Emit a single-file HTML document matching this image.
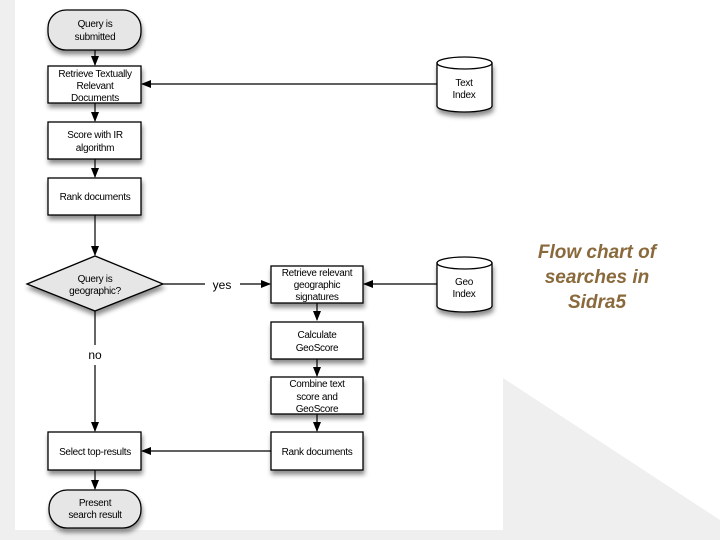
<!DOCTYPE html>
<html><head><meta charset="utf-8"><style>
html,body{margin:0;padding:0;width:720px;height:540px;overflow:hidden;background:#fff}
</style></head><body>
<svg width="720" height="540" xmlns="http://www.w3.org/2000/svg" font-family="Liberation Sans, Arial, sans-serif">
<defs>
<filter id="sh" x="-20%" y="-20%" width="140%" height="160%"><feDropShadow dx="1" dy="4" stdDeviation="2.5" flood-color="#000" flood-opacity="0.45"/></filter>
<marker id="ar" markerWidth="10" markerHeight="10" refX="9" refY="4" orient="auto" markerUnits="userSpaceOnUse"><path d="M0,0 L10,4 L0,8 z" fill="#000"/></marker>
</defs>
<rect x="0" y="0" width="720" height="540" fill="#fff"/>
<rect x="0" y="0" width="15" height="540" fill="#efefef"/>
<rect x="0" y="530" width="720" height="10" fill="#efefef"/>
<polygon points="503,378 720,520 720,540 503,540" fill="#efefef"/>
<g stroke="#000" stroke-width="1.2" fill="none">
<line x1="95" y1="50" x2="95" y2="65" marker-end="url(#ar)"/>
<line x1="95" y1="103" x2="95" y2="121" marker-end="url(#ar)"/>
<line x1="95" y1="159" x2="95" y2="177" marker-end="url(#ar)"/>
<line x1="95" y1="215" x2="95" y2="255" marker-end="url(#ar)"/>
<line x1="95" y1="311" x2="95" y2="345"/>
<line x1="95" y1="365" x2="95" y2="431" marker-end="url(#ar)"/>
<line x1="95" y1="470" x2="95" y2="489" marker-end="url(#ar)"/>
<line x1="163" y1="284" x2="205" y2="284"/>
<line x1="240" y1="284" x2="270" y2="284" marker-end="url(#ar)"/>
<line x1="437" y1="84" x2="142" y2="84" marker-end="url(#ar)"/>
<line x1="437" y1="284" x2="364" y2="284" marker-end="url(#ar)"/>
<line x1="317" y1="303" x2="317" y2="320" marker-end="url(#ar)"/>
<line x1="317" y1="359" x2="317" y2="376" marker-end="url(#ar)"/>
<line x1="317" y1="414" x2="317" y2="431" marker-end="url(#ar)"/>
<line x1="271" y1="451" x2="142" y2="451" marker-end="url(#ar)"/>
</g>
<g stroke="#000" stroke-width="1.3" filter="url(#sh)">
<rect x="48" y="10" width="93" height="40" rx="18" fill="#e6e6e6"/>
<rect x="48" y="66" width="93" height="37" fill="#fff"/>
<rect x="48" y="122" width="93" height="37" fill="#fff"/>
<rect x="48" y="178" width="93" height="37" fill="#fff"/>
<polygon points="27,284 95,256 163,284 95,311" fill="#e6e6e6"/>
<rect x="48" y="432" width="93" height="38" fill="#fff"/>
<rect x="49" y="490" width="92" height="38" rx="18" fill="#e6e6e6"/>
<rect x="271" y="266" width="92" height="37" fill="#fff"/>
<rect x="271" y="322" width="92" height="37" fill="#fff"/>
<rect x="271" y="377" width="92" height="37" fill="#fff"/>
<rect x="271" y="432" width="92" height="38" fill="#fff"/>
<path d="M437,63 L437,106 A27.5,6 0 0 0 492,106 L492,63 Z" fill="#fff"/>
<path d="M437,263 L437,306 A27.5,6 0 0 0 492,306 L492,263 Z" fill="#fff"/>
</g>
<g stroke="#000" stroke-width="1.3" fill="#fff">
<ellipse cx="464.5" cy="63" rx="27.5" ry="6"/>
<ellipse cx="464.5" cy="263" rx="27.5" ry="6"/>
</g>
<g font-size="10" text-anchor="middle" fill="#000" letter-spacing="-0.3">
<text x="95" y="27">Query is</text><text x="95" y="40">submitted</text>
<text x="95" y="77">Retrieve Textually</text><text x="95" y="89">Relevant</text><text x="95" y="101">Documents</text>
<text x="95" y="138">Score with IR</text><text x="95" y="151">algorithm</text>
<text x="95" y="200">Rank documents</text>
<text x="95" y="282">Query is</text><text x="95" y="294">geographic?</text>
<text x="95" y="455">Select top-results</text>
<text x="95" y="506">Present</text><text x="95" y="518">search result</text>
<text x="317" y="276">Retrieve relevant</text><text x="317" y="288">geographic</text><text x="317" y="300">signatures</text>
<text x="317" y="338">Calculate</text><text x="317" y="351">GeoScore</text>
<text x="317" y="387">Combine text</text><text x="317" y="400">score and</text><text x="317" y="412">GeoScore</text>
<text x="317" y="455">Rank documents</text>
<text x="464" y="86">Text</text><text x="464" y="98">Index</text>
<text x="464" y="285">Geo</text><text x="464" y="297">Index</text>
</g>
<text x="222" y="289" font-size="12" text-anchor="middle">yes</text>
<text x="95" y="359" font-size="12" text-anchor="middle">no</text>
<g font-size="19" font-weight="bold" font-style="italic" fill="#8a6a3c" text-anchor="middle">
<text x="597" y="258">Flow chart of</text>
<text x="597" y="283">searches in</text>
<text x="597" y="308">Sidra5</text>
</g>
</svg>
</body></html>
